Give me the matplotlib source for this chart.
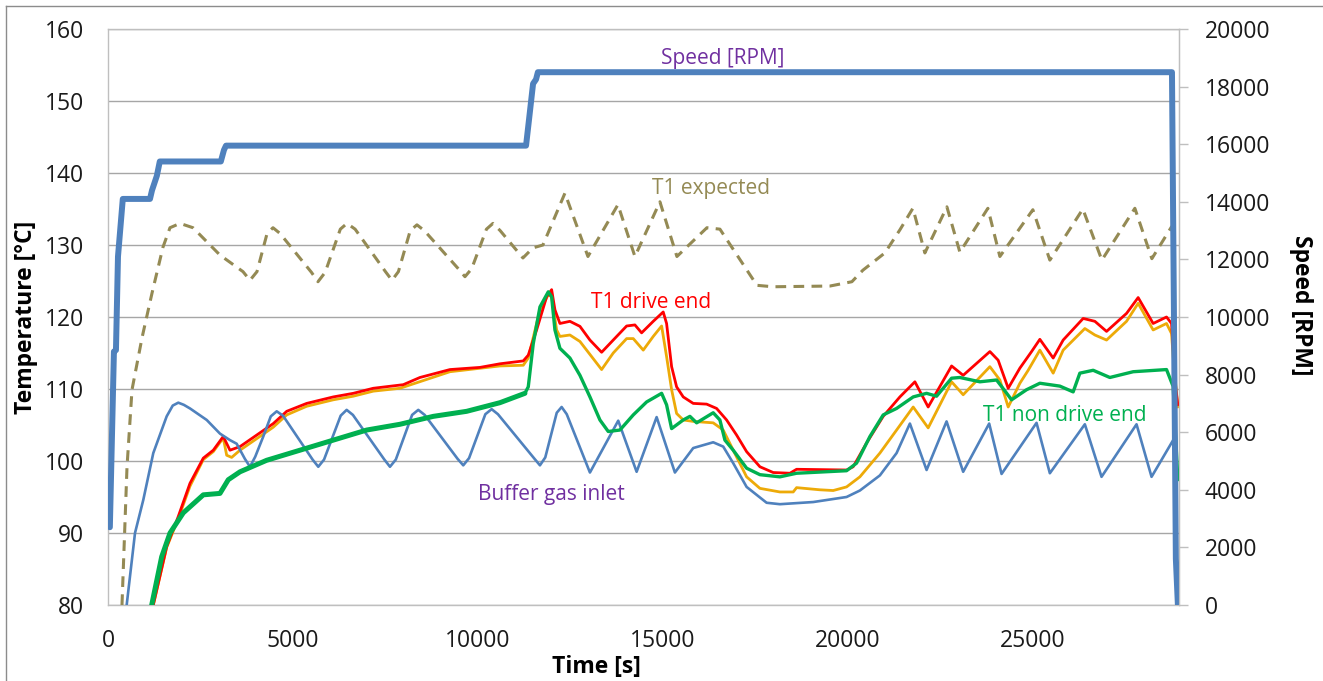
import matplotlib.pyplot as plt
from matplotlib.lines import Line2D

plt.rcParams['font.family'] = ['Open Sans', 'DejaVu Sans']

# shaft speed [RPM], right axis
speed_t = [50, 160, 215, 270, 400, 1135, 1190, 1320, 1400, 3050, 3135, 3190,
           11300, 11380, 11490, 11570, 11620, 28760, 28810, 28865, 28920]
speed_rpm = [2700, 8800, 8850, 12100, 14100, 14100, 14400, 14900, 15400, 15400, 15800, 15950,
             15950, 16850, 18100, 18250, 18500, 18500, 10600, 1600, 0]

# expected T1 temperature (model)
expected_t = [378, 514, 649, 919, 1189, 1486, 1676, 1946, 2297, 3027,
              3649, 3838, 4027, 4300, 4460, 4650, 5500, 5676, 5870, 6280,
              6460, 6680, 7500, 7676, 7850, 8170, 8351, 8550, 9470, 9649,
              9830, 10230, 10405, 10600, 11216, 11486, 11757, 12351,
              12973, 13784, 14243, 14919, 15378, 16189, 16541, 17541, 17973, 19514,
              20108, 20405, 21000, 21405, 21757, 22081, 22676, 23027, 23784, 24108,
              25000, 25459, 26351, 26865, 27757, 28216, 28757]
expected_temp = [80, 99.2, 109.9, 117.1, 123.3, 129.7, 132.4, 133.0, 132.4, 128.6,
                 126.3, 125.1, 126.3, 131.6, 132.4, 131.6, 126.2, 124.9, 126.2, 132.2,
                 133.0, 132.2, 126.3, 125.1, 126.3, 132.0, 132.8, 132.0, 126.7, 125.6,
                 126.7, 132.2, 133.0, 132.0, 128.2, 129.6, 130.0, 137.2,
                 128.4, 135.6, 128.4, 136.0, 128.4, 132.4, 132.2, 124.4, 124.2, 124.3,
                 124.9, 126.5, 128.9, 132.1, 135.1, 128.9, 135.3, 129.0, 135.1, 128.4,
                 134.9, 127.9, 135.0, 127.9, 135.1, 128.1, 132.6]

# T1 drive end
drive_t = [1224, 1586, 1900, 2216, 2576, 2846, 3116, 3297, 3568, 4019,
           4468, 4830, 5370, 6089, 6630, 7170, 7981, 8432, 9243, 10054,
           10595, 11225, 11360, 11586, 11856, 11992, 12081, 12216, 12486, 12757,
           13027, 13343, 13657, 14019, 14243, 14424, 14738, 15008, 15099, 15235,
           15370, 15549, 15819, 16181, 16451, 16721, 16992, 17262, 17622, 17981,
           18432, 18613, 19964, 20143, 20505, 20954, 21405, 21811, 22170, 22803,
           23116, 23838, 24062, 24333, 24649, 24965, 25189, 25549, 25819, 26360,
           26676, 26992, 27532, 27846, 28251, 28613, 28748, 28865, 28919]
drive_temp = [80, 88.1, 92.3, 96.9, 100.4, 101.5, 103.4, 101.5, 102.0, 103.6,
              105.2, 106.9, 108.0, 108.9, 109.4, 110.1, 110.6, 111.6, 112.7, 113.0,
              113.5, 113.9, 114.7, 118.2, 122.8, 123.8, 121.0, 119.1, 119.4, 118.7,
              116.8, 115.1, 116.8, 118.75, 118.9, 117.8, 119.4, 120.7, 119.1, 113.1,
              110.3, 108.9, 108.0, 107.9, 107.3, 105.7, 103.6, 101.3, 99.2, 98.4,
              98.3, 98.85, 98.75, 99.2, 102.5, 106.2, 108.9, 111.0, 107.5, 113.2,
              111.9, 115.2, 114.0, 110.1, 112.9, 115.2, 116.9, 114.3, 116.8, 119.8,
              119.4, 118.0, 120.5, 122.7, 119.1, 120.0, 119.1, 110.0, 107.8]

# second drive end sensor (unlabelled, orange)
bearing_t = [1224, 1586, 1900, 2216, 2576, 2846, 3116, 3208, 3343, 3568,
             4019, 4468, 4830, 5370, 6089, 6630, 7170, 7892, 9243, 10595,
             11225, 11360, 11676, 11901, 11992, 12127, 12216, 12486, 12757, 13343,
             13657, 14019, 14198, 14468, 14738, 14965, 15099, 15235, 15370, 15549,
             15819, 16359, 16630, 16900, 17262, 17622, 18162, 18522, 18613, 19243,
             19603, 19964, 20324, 20865, 21316, 21765, 22170, 22803, 23116, 23838,
             24108, 24333, 24649, 24873, 25189, 25549, 25819, 26405, 26676, 26992,
             27532, 27846, 28251, 28613, 28748, 28792, 28919]
bearing_temp = [80, 88.0, 92.0, 96.5, 100.2, 101.3, 103.2, 100.8, 100.5, 101.5,
                103.1, 104.7, 106.4, 107.6, 108.5, 109.0, 109.7, 110.1, 112.4, 113.2,
                113.3, 114.3, 121.0, 123.1, 122.8, 118.2, 117.3, 117.5, 116.6, 112.7,
                115.0, 117.0, 117.0, 115.4, 117.3, 118.75, 114.5, 109.9, 106.6, 105.7,
                105.5, 105.3, 104.3, 101.5, 97.8, 96.2, 95.7, 95.7, 96.3, 96.0,
                95.9, 96.4, 97.8, 101.1, 104.3, 107.5, 104.6, 111.0, 109.2, 113.1,
                111.25, 107.5, 110.8, 112.6, 115.4, 112.2, 115.4, 118.4, 117.5, 116.8,
                119.4, 121.9, 118.2, 119.1, 117.7, 114.5, 107.5]

# T1 non drive end
nde_t = [1181, 1451, 1676, 2035, 2576, 3027, 3251, 3568, 4289, 5189,
         6089, 6992, 7892, 8792, 9695, 10595, 11270, 11360, 11495, 11676,
         11901, 11992, 12081, 12216, 12486, 12757, 13027, 13297, 13522, 13838,
         14198, 14559, 14965, 15099, 15235, 15549, 15730, 15911, 16359, 16540,
         16676, 16900, 17262, 17622, 18162, 18613, 19964, 20234, 20595, 20954,
         21316, 21765, 22127, 22397, 22803, 23027, 23568, 24019, 24154, 24424,
         24829, 25189, 25730, 26089, 26270, 26630, 27081, 27712, 28613, 28792,
         28919]
nde_temp = [80, 86.7, 90.0, 92.8, 95.3, 95.5, 97.4, 98.5, 100.1, 101.5,
            102.9, 104.3, 105.1, 106.2, 106.9, 108.1, 109.4, 110.3, 116.3, 121.4,
            123.5, 122.8, 118.2, 115.65, 114.3, 111.9, 108.9, 105.7, 104.1, 104.3,
            106.4, 108.2, 109.4, 107.8, 104.5, 105.7, 106.2, 105.3, 106.7, 105.7,
            102.9, 101.5, 99.0, 98.1, 97.8, 98.3, 98.65, 99.7, 103.4, 106.4,
            107.3, 108.9, 109.4, 109.0, 111.5, 111.6, 111.0, 111.25, 110.35, 108.5,
            109.9, 110.8, 110.4, 109.6, 112.2, 112.6, 111.6, 112.4, 112.7, 110.35,
            97.4]

# buffer gas inlet
buffer_t = [505, 730, 954, 1224, 1586, 1750, 1900, 2050, 2216, 2668,
            3027, 3297, 3478, 3700, 3838, 3980, 4197, 4400, 4560, 4730,
            5530, 5684, 5840, 6290, 6451, 6620, 7470, 7622, 7780, 8220,
            8387, 8560, 9450, 9603, 9760, 10200, 10370, 10540, 11530, 11676,
            11820, 12130, 12262, 12400, 13027, 13792, 14289, 14830, 15324, 15819,
            16359, 16630, 16900, 17262, 17803, 18162, 19062, 19964, 20324, 20865,
            21316, 21676, 22127, 22667, 23116, 23819, 24154, 25099, 25459, 26405,
            26856, 27802, 28208, 28792]
buffer_temp = [80, 90, 94.6, 101.1, 106.2, 107.7, 108.1, 107.8, 107.3, 105.7,
               103.8, 102.9, 102.4, 100.3, 99.2, 100.6, 103.4, 106.2, 106.9, 106.3,
               100.2, 99.2, 100.2, 106.3, 107.1, 106.4, 100.2, 99.2, 100.2, 106.4,
               107.1, 106.4, 100.3, 99.4, 100.4, 106.5, 107.2, 106.5, 100.3, 99.4,
               100.5, 106.7, 107.5, 106.5, 98.4, 105.6, 98.5, 106.1, 98.4, 101.8,
               102.6, 102.0, 99.7, 96.4, 94.2, 94.0, 94.3, 95.0, 95.9, 98.0,
               101.1, 105.2, 98.75, 105.5, 98.5, 105.2, 98.2, 105.3, 98.3, 105.1,
               97.8, 105.1, 97.8, 102.9]

BLUE = '#4F81BD'
OLIVE = '#948A54'
RED = '#FF0000'
ORANGE = '#EDAA08'
GREEN = '#00B050'
PURPLE = '#7030A0'
GRID = '#A6A6A6'

W, H = 1323, 681
fig = plt.figure(figsize=(W / 100, H / 100), dpi=100)
ax = fig.add_axes([108 / W, 1 - 605 / H, (1179 - 108) / W, (605 - 29) / H])

ax.set_xlim(0, 28950)
ax.set_ylim(80, 160)
ax.set_xticks(range(0, 28000, 5000))
ax.set_yticks(range(80, 161, 10))
ax.grid(axis='y', color=GRID, lw=1.0)
ax.set_axisbelow(True)
for s in ax.spines.values():
    s.set_color('#BFBFBF')
    s.set_linewidth(1.0)
ax.tick_params(axis='both', length=0, labelsize=16.5, labelcolor='#1a1a1a')
ax.tick_params(axis='x', pad=17)
ax.tick_params(axis='y', pad=17)

kw = dict(solid_joinstyle='round', solid_capstyle='round')
ax.plot(bearing_t, bearing_temp, color=ORANGE, lw=2.0, zorder=2, **kw)
ax.plot(drive_t, drive_temp, color=RED, lw=2.0, zorder=3, **kw)
ax.plot(buffer_t, buffer_temp, color=BLUE, lw=1.9, zorder=3.5, **kw)
ax.plot(nde_t, nde_temp, color=GREEN, lw=2.4, zorder=4, **kw)
# the early part of the NDE trace is noisier and looks heavier
early = sum(1 for t in nde_t if t <= 11270)
ax.plot(nde_t[:early], nde_temp[:early], color=GREEN, lw=3.6, zorder=4, **kw)
ax.plot(expected_t, expected_temp, color=OLIVE, lw=2.2, dashes=(3.5, 2.4), zorder=4)

ax2 = ax.twinx()
ax2.set_ylim(0, 20000)
ax2.set_yticks(range(0, 20001, 2000))
ax2.plot(speed_t, speed_rpm, color=BLUE, lw=4.3, **kw)
for s in ax2.spines.values():
    s.set_visible(False)
ax2.spines['right'].set_visible(True)
ax2.spines['right'].set_color('#BFBFBF')
ax2.tick_params(axis='y', direction='out', length=6.5, width=1, color='#BFBFBF',
                labelsize=16.5, labelcolor='#1a1a1a', pad=12)

# series labels
ax.text(16622, 155.14, 'Speed [RPM]', color=PURPLE, fontsize=15, ha='center', va='baseline')
ax.text(16297, 137.08, 'T1 expected', color=OLIVE, fontsize=15, ha='center', va='baseline')
ax.text(14676, 121.25, 'T1 drive end', color=RED, fontsize=15, ha='center', va='baseline')
ax.text(11973, 94.58, 'Buffer gas inlet', color=PURPLE, fontsize=15, ha='center', va='baseline')
ax.text(25865, 105.56, 'T1 non drive end', color=GREEN, fontsize=15, ha='center', va='baseline')

# axis titles
fig.text(26 / W, 1 - 317 / H, 'Temperature [°C]', rotation=90, fontsize=16.5,
         fontweight='bold', ha='center', va='center')
fig.text(1301 / W, 1 - 305 / H, 'Speed [RPM]', rotation=270, fontsize=16.5,
         fontweight='bold', ha='center', va='center')
fig.text(596 / W, 1 - 673 / H, 'Time [s]', fontsize=16.5, fontweight='bold',
         ha='center', va='baseline')

# chart area border
fig.add_artist(Line2D([6 / W, 6 / W], [0, 1 - 6 / H], color='#8C8C8C', lw=1.0))
fig.add_artist(Line2D([6 / W, 1], [1 - 6 / H, 1 - 6 / H], color='#8C8C8C', lw=1.0))

fig.savefig('out.png', dpi=100)
